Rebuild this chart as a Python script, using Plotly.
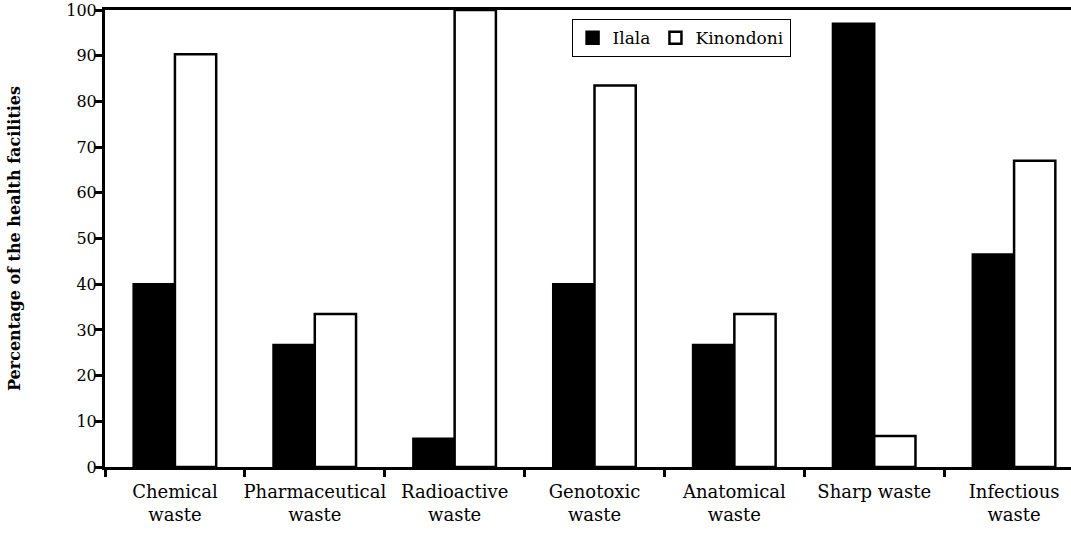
import plotly.graph_objects as go

categories = ["Chemical<br>waste", "Pharmaceutical<br>waste", "Radioactive<br>waste",
              "Genotoxic<br>waste", "Anatomical<br>waste", "Sharp waste", "Infectious<br>waste"]
ilala = [40, 26.7, 6.2, 40, 26.7, 97, 46.5]
kinondoni = [90.3, 33.5, 100, 83.5, 33.5, 6.8, 67]
y_ticks = list(range(0, 101, 10))

# DejaVu Serif is the serif face that renders reliably here; sizes are cut a bit
# because it runs wider than Times
serif = "DejaVu Serif"

fig = go.Figure()
fig.add_trace(go.Bar(x=categories, y=ilala, name="Ilala",
                     marker=dict(color="black", line=dict(color="black", width=2.5))))
fig.add_trace(go.Bar(x=categories, y=kinondoni, name="Kinondoni",
                     marker=dict(color="white", line=dict(color="black", width=2.5))))

fig.update_layout(
    width=1071, height=542,
    margin=dict(l=105, r=0, t=10, b=75),
    paper_bgcolor="white", plot_bgcolor="white",
    barmode="group", bargap=0.41, bargroupgap=0,
    font=dict(family=serif, color="black"),
    showlegend=True,
    legend=dict(orientation="h", x=0.483, y=0.98, xanchor="left", yanchor="top",
                bordercolor="black", borderwidth=1, bgcolor="white",
                font=dict(size=17, family=serif), itemwidth=30),
)

fig.update_xaxes(
    range=[-0.5, 6.5 - 13 / 139.8], automargin=False,
    showline=True, linecolor="black", linewidth=3, mirror=True,
    ticks="outside", ticklen=7, tickwidth=2.5, tickcolor="black",
    tickson="boundaries", showgrid=False, tickangle=0,
    tickfont=dict(size=18, family=serif), ticklabelstandoff=6,
)
fig.update_yaxes(
    range=[0, 100], tickvals=y_ticks, automargin=False, ticklabeloverflow="allow",
    showline=True, linecolor="black", linewidth=3,
    ticks="outside", ticklen=7, tickwidth=2.5, tickcolor="black",
    showgrid=False, zeroline=False,
    tickfont=dict(size=16, family=serif), ticklabelstandoff=-5,
    title=dict(text="<b>Percentage of the health facilities</b>",
               font=dict(size=16, family=serif), standoff=42),
)

# drop the default 8px body margin so the figure sits at the page corner
fig.write_html("out.html", config={"displayModeBar": False},
               post_script="document.body.style.margin = '0';")
